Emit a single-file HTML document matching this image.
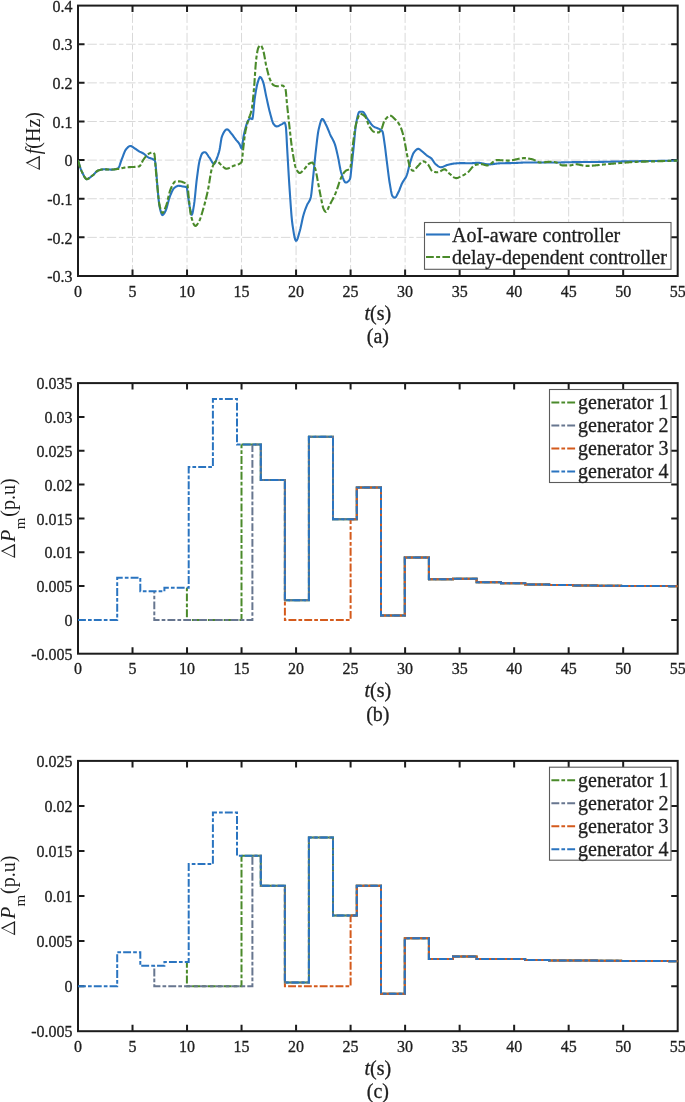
<!DOCTYPE html><html><head><meta charset="utf-8"><style>html,body{margin:0;padding:0;background:#fff;width:685px;height:1102px;overflow:hidden}svg{display:block;will-change:transform}text{font-family:"Liberation Serif",serif;fill:#1e1e1e;stroke:#1e1e1e;stroke-width:0.3px}.yl text{stroke-width:0}</style></head><body>
<svg width="685" height="1102" viewBox="0 0 685 1102">
<rect width="685" height="1102" fill="#fff"/>
<clipPath id="clipa"><rect x="78.0" y="5.6" width="599.7" height="270.4"/></clipPath>
<clipPath id="clipb"><rect x="78.0" y="383.1" width="599.7" height="270.6"/></clipPath>
<clipPath id="clipc"><rect x="78.0" y="760.9" width="599.7" height="270.30000000000007"/></clipPath>
<line x1="132.52" y1="276.0" x2="132.52" y2="5.6" stroke="#d9d9d9" stroke-width="1" stroke-dasharray="9.45 2.65 4.6 2.65" stroke-dashoffset="17.85"/>
<line x1="187.04" y1="276.0" x2="187.04" y2="5.6" stroke="#d9d9d9" stroke-width="1" stroke-dasharray="9.45 2.65 4.6 2.65" stroke-dashoffset="17.85"/>
<line x1="241.55" y1="276.0" x2="241.55" y2="5.6" stroke="#d9d9d9" stroke-width="1" stroke-dasharray="9.45 2.65 4.6 2.65" stroke-dashoffset="17.85"/>
<line x1="296.07" y1="276.0" x2="296.07" y2="5.6" stroke="#d9d9d9" stroke-width="1" stroke-dasharray="9.45 2.65 4.6 2.65" stroke-dashoffset="17.85"/>
<line x1="350.59" y1="276.0" x2="350.59" y2="5.6" stroke="#d9d9d9" stroke-width="1" stroke-dasharray="9.45 2.65 4.6 2.65" stroke-dashoffset="17.85"/>
<line x1="405.11" y1="276.0" x2="405.11" y2="5.6" stroke="#d9d9d9" stroke-width="1" stroke-dasharray="9.45 2.65 4.6 2.65" stroke-dashoffset="17.85"/>
<line x1="459.63" y1="276.0" x2="459.63" y2="5.6" stroke="#d9d9d9" stroke-width="1" stroke-dasharray="9.45 2.65 4.6 2.65" stroke-dashoffset="17.85"/>
<line x1="514.15" y1="276.0" x2="514.15" y2="5.6" stroke="#d9d9d9" stroke-width="1" stroke-dasharray="9.45 2.65 4.6 2.65" stroke-dashoffset="17.85"/>
<line x1="568.66" y1="276.0" x2="568.66" y2="5.6" stroke="#d9d9d9" stroke-width="1" stroke-dasharray="9.45 2.65 4.6 2.65" stroke-dashoffset="17.85"/>
<line x1="623.18" y1="276.0" x2="623.18" y2="5.6" stroke="#d9d9d9" stroke-width="1" stroke-dasharray="9.45 2.65 4.6 2.65" stroke-dashoffset="17.85"/>
<line x1="78.0" y1="237.37" x2="677.7" y2="237.37" stroke="#d9d9d9" stroke-width="1" stroke-dasharray="9.45 2.65 4.6 2.65" stroke-dashoffset="9.95"/>
<line x1="78.0" y1="198.74" x2="677.7" y2="198.74" stroke="#d9d9d9" stroke-width="1" stroke-dasharray="9.45 2.65 4.6 2.65" stroke-dashoffset="9.95"/>
<line x1="78.0" y1="160.11" x2="677.7" y2="160.11" stroke="#d9d9d9" stroke-width="1" stroke-dasharray="9.45 2.65 4.6 2.65" stroke-dashoffset="9.95"/>
<line x1="78.0" y1="121.49" x2="677.7" y2="121.49" stroke="#d9d9d9" stroke-width="1" stroke-dasharray="9.45 2.65 4.6 2.65" stroke-dashoffset="9.95"/>
<line x1="78.0" y1="82.86" x2="677.7" y2="82.86" stroke="#d9d9d9" stroke-width="1" stroke-dasharray="9.45 2.65 4.6 2.65" stroke-dashoffset="9.95"/>
<line x1="78.0" y1="44.23" x2="677.7" y2="44.23" stroke="#d9d9d9" stroke-width="1" stroke-dasharray="9.45 2.65 4.6 2.65" stroke-dashoffset="9.95"/>
<rect x="78.0" y="5.6" width="599.70" height="270.40" fill="none" stroke="#1c1c1c" stroke-width="2"/>
<path d="M132.52,276.0 v-6.5 M132.52,5.6 v6.5 M187.04,276.0 v-6.5 M187.04,5.6 v6.5 M241.55,276.0 v-6.5 M241.55,5.6 v6.5 M296.07,276.0 v-6.5 M296.07,5.6 v6.5 M350.59,276.0 v-6.5 M350.59,5.6 v6.5 M405.11,276.0 v-6.5 M405.11,5.6 v6.5 M459.63,276.0 v-6.5 M459.63,5.6 v6.5 M514.15,276.0 v-6.5 M514.15,5.6 v6.5 M568.66,276.0 v-6.5 M568.66,5.6 v6.5 M623.18,276.0 v-6.5 M623.18,5.6 v6.5 M78.0,237.37 h6.5 M677.7,237.37 h-6.5 M78.0,198.74 h6.5 M677.7,198.74 h-6.5 M78.0,160.11 h6.5 M677.7,160.11 h-6.5 M78.0,121.49 h6.5 M677.7,121.49 h-6.5 M78.0,82.86 h6.5 M677.7,82.86 h-6.5 M78.0,44.23 h6.5 M677.7,44.23 h-6.5" stroke="#1c1c1c" stroke-width="2" fill="none"/>
<text x="78.00" y="296.50" font-size="16" text-anchor="middle">0</text>
<text x="132.52" y="296.50" font-size="16" text-anchor="middle">5</text>
<text x="187.04" y="296.50" font-size="16" text-anchor="middle">10</text>
<text x="241.55" y="296.50" font-size="16" text-anchor="middle">15</text>
<text x="296.07" y="296.50" font-size="16" text-anchor="middle">20</text>
<text x="350.59" y="296.50" font-size="16" text-anchor="middle">25</text>
<text x="405.11" y="296.50" font-size="16" text-anchor="middle">30</text>
<text x="459.63" y="296.50" font-size="16" text-anchor="middle">35</text>
<text x="514.15" y="296.50" font-size="16" text-anchor="middle">40</text>
<text x="568.66" y="296.50" font-size="16" text-anchor="middle">45</text>
<text x="623.18" y="296.50" font-size="16" text-anchor="middle">50</text>
<text x="677.70" y="296.50" font-size="16" text-anchor="middle">55</text>
<text x="72.6" y="282.20" font-size="16" text-anchor="end">-0.3</text>
<text x="72.6" y="243.57" font-size="16" text-anchor="end">-0.2</text>
<text x="72.6" y="204.94" font-size="16" text-anchor="end">-0.1</text>
<text x="72.6" y="166.31" font-size="16" text-anchor="end">0</text>
<text x="72.6" y="127.69" font-size="16" text-anchor="end">0.1</text>
<text x="72.6" y="89.06" font-size="16" text-anchor="end">0.2</text>
<text x="72.6" y="50.43" font-size="16" text-anchor="end">0.3</text>
<text x="72.6" y="11.80" font-size="16" text-anchor="end">0.4</text>
<text x="377.85" y="319.50" font-size="20" text-anchor="middle"><tspan font-style="italic">t</tspan>(s)</text>
<text x="377.85" y="342.80" font-size="20" text-anchor="middle">(a)</text>
<g clip-path="url(#clipa)" fill="none" stroke-width="2.1">
<path d="M78.00,160.20 L78.50,161.96 L79.00,163.66 L79.50,165.28 L80.00,166.83 L80.50,168.28 L81.00,169.63 L81.50,170.87 L82.00,171.99 L82.50,173.00 L83.00,174.01 L83.50,175.03 L84.00,176.01 L84.50,176.93 L85.00,177.73 L85.50,178.38 L86.00,178.84 L86.50,179.08 L87.00,179.08 L87.50,178.98 L88.00,178.80 L88.50,178.55 L89.00,178.25 L89.50,177.90 L90.00,177.51 L90.50,177.11 L91.00,176.69 L91.50,176.28 L92.00,175.88 L92.50,175.50 L93.00,175.11 L93.50,174.66 L94.00,174.16 L94.50,173.65 L95.00,173.12 L95.50,172.59 L96.00,172.09 L96.50,171.62 L97.00,171.20 L97.50,170.84 L98.00,170.56 L98.50,170.37 L99.00,170.22 L99.50,170.07 L100.00,169.93 L100.50,169.81 L101.00,169.69 L101.50,169.58 L102.00,169.49 L102.50,169.42 L103.00,169.36 L103.50,169.32 L104.00,169.30 L104.50,169.30 L105.00,169.31 L105.50,169.33 L106.00,169.35 L106.50,169.37 L107.00,169.40 L107.50,169.43 L108.00,169.46 L108.50,169.49 L109.00,169.52 L109.50,169.54 L110.00,169.57 L110.50,169.58 L111.00,169.60 L111.50,169.60 L112.00,169.59 L112.50,169.57 L113.00,169.53 L113.50,169.47 L114.00,169.40 L114.50,169.31 L115.00,169.21 L115.50,169.09 L116.00,168.95 L116.50,168.80 L117.00,168.63 L117.50,168.44 L118.00,168.24 L118.50,167.86 L119.00,167.01 L119.50,165.81 L120.00,164.38 L120.50,162.84 L121.00,161.30 L121.50,159.90 L122.00,158.67 L122.50,157.37 L123.00,156.03 L123.50,154.68 L124.00,153.37 L124.50,152.14 L125.00,151.02 L125.50,150.07 L126.00,149.32 L126.50,148.74 L127.00,148.17 L127.50,147.63 L128.00,147.14 L128.50,146.72 L129.00,146.37 L129.50,146.13 L130.00,146.01 L130.50,146.02 L131.00,146.13 L131.50,146.31 L132.00,146.57 L132.50,146.87 L133.00,147.20 L133.50,147.56 L134.00,147.91 L134.50,148.25 L135.00,148.56 L135.50,148.88 L136.00,149.21 L136.50,149.57 L137.00,149.93 L137.50,150.28 L138.00,150.63 L138.50,150.97 L139.00,151.28 L139.50,151.57 L140.00,151.83 L140.50,152.07 L141.00,152.29 L141.50,152.52 L142.00,152.75 L142.50,152.99 L143.00,153.25 L143.50,153.54 L144.00,153.87 L144.50,154.26 L145.00,154.69 L145.50,155.15 L146.00,155.61 L146.50,156.07 L147.00,156.49 L147.50,156.88 L148.00,157.20 L148.50,157.47 L149.00,157.70 L149.50,157.90 L150.00,158.08 L150.50,158.25 L151.00,158.42 L151.50,158.59 L152.00,158.78 L152.50,158.99 L153.00,159.23 L153.50,159.51 L154.00,159.83 L154.50,160.22 L155.00,160.90 L155.50,163.96 L156.00,169.00 L156.50,174.87 L157.00,181.63 L157.50,187.58 L158.00,193.12 L158.50,198.45 L159.00,203.06 L159.50,206.42 L160.00,208.63 L160.50,210.64 L161.00,212.39 L161.50,213.77 L162.00,214.67 L162.50,215.00 L163.00,214.84 L163.50,214.39 L164.00,213.72 L164.50,212.91 L165.00,212.02 L165.50,211.11 L166.00,209.93 L166.50,208.42 L167.00,206.67 L167.50,204.77 L168.00,202.81 L168.50,200.89 L169.00,199.09 L169.50,197.51 L170.00,196.20 L170.50,194.96 L171.00,193.73 L171.50,192.54 L172.00,191.43 L172.50,190.40 L173.00,189.51 L173.50,188.75 L174.00,188.18 L174.50,187.76 L175.00,187.38 L175.50,187.02 L176.00,186.70 L176.50,186.41 L177.00,186.17 L177.50,185.98 L178.00,185.86 L178.50,185.80 L179.00,185.81 L179.50,185.85 L180.00,185.91 L180.50,186.00 L181.00,186.09 L181.50,186.20 L182.00,186.30 L182.50,186.41 L183.00,186.50 L183.50,186.58 L184.00,186.64 L184.50,186.69 L185.00,186.76 L185.50,186.86 L186.00,186.98 L186.50,187.16 L187.00,188.48 L187.50,192.09 L188.00,196.04 L188.50,199.24 L189.00,202.49 L189.50,205.63 L190.00,208.45 L190.50,210.84 L191.00,213.23 L191.50,214.83 L192.00,214.72 L192.50,213.21 L193.00,210.78 L193.50,207.87 L194.00,204.90 L194.50,201.16 L195.00,196.55 L195.50,191.48 L196.00,186.37 L196.50,181.66 L197.00,177.67 L197.50,173.80 L198.00,170.03 L198.50,166.52 L199.00,163.44 L199.50,160.98 L200.00,159.15 L200.50,157.47 L201.00,155.96 L201.50,154.68 L202.00,153.68 L202.50,153.04 L203.00,152.74 L203.50,152.51 L204.00,152.34 L204.50,152.23 L205.00,152.21 L205.50,152.38 L206.00,152.77 L206.50,153.33 L207.00,154.00 L207.50,154.76 L208.00,155.55 L208.50,156.32 L209.00,157.04 L209.50,157.70 L210.00,158.46 L210.50,159.31 L211.00,160.19 L211.50,161.06 L212.00,161.88 L212.50,162.61 L213.00,163.20 L213.50,163.61 L214.00,163.79 L214.50,163.61 L215.00,162.91 L215.50,161.85 L216.00,160.58 L216.50,159.25 L217.00,158.01 L217.50,156.70 L218.00,155.26 L218.50,153.68 L219.00,151.93 L219.50,150.00 L220.00,147.43 L220.50,144.18 L221.00,140.85 L221.50,138.05 L222.00,136.36 L222.50,135.17 L223.00,134.07 L223.50,133.05 L224.00,132.12 L224.50,131.31 L225.00,130.62 L225.50,130.06 L226.00,129.65 L226.50,129.39 L227.00,129.30 L227.50,129.40 L228.00,129.67 L228.50,130.08 L229.00,130.60 L229.50,131.19 L230.00,131.84 L230.50,132.49 L231.00,133.13 L231.50,133.71 L232.00,134.31 L232.50,134.96 L233.00,135.63 L233.50,136.33 L234.00,137.04 L234.50,137.74 L235.00,138.44 L235.50,139.11 L236.00,139.75 L236.50,140.35 L237.00,140.91 L237.50,141.47 L238.00,142.04 L238.50,142.65 L239.00,143.32 L239.50,144.07 L240.00,145.17 L240.50,146.47 L241.00,147.60 L241.50,148.18 L242.00,147.32 L242.50,144.37 L243.00,140.46 L243.50,136.75 L244.00,134.22 L244.50,132.07 L245.00,129.99 L245.50,128.01 L246.00,126.18 L246.50,124.51 L247.00,123.04 L247.50,121.80 L248.00,120.81 L248.50,120.06 L249.00,119.37 L249.50,118.79 L250.00,118.41 L250.50,118.31 L251.00,118.49 L251.50,118.79 L252.00,119.05 L252.50,118.80 L253.00,115.84 L253.50,110.84 L254.00,105.14 L254.50,100.12 L255.00,96.63 L255.50,93.44 L256.00,90.45 L256.50,87.71 L257.00,85.29 L257.50,83.28 L258.00,81.62 L258.50,80.01 L259.00,78.58 L259.50,77.52 L260.00,77.02 L260.50,77.13 L261.00,77.62 L261.50,78.39 L262.00,79.36 L262.50,80.43 L263.00,81.59 L263.50,83.21 L264.00,85.28 L264.50,87.67 L265.00,90.23 L265.50,92.83 L266.00,95.35 L266.50,97.64 L267.00,99.89 L267.50,102.17 L268.00,104.45 L268.50,106.69 L269.00,108.87 L269.50,110.93 L270.00,112.84 L270.50,114.66 L271.00,116.53 L271.50,118.37 L272.00,120.11 L272.50,121.67 L273.00,122.97 L273.50,123.93 L274.00,124.55 L274.50,125.11 L275.00,125.60 L275.50,126.00 L276.00,126.27 L276.50,126.40 L277.00,126.38 L277.50,126.29 L278.00,126.14 L278.50,125.94 L279.00,125.71 L279.50,125.45 L280.00,125.17 L280.50,124.89 L281.00,124.61 L281.50,124.35 L282.00,124.10 L282.50,123.79 L283.00,123.45 L283.50,123.12 L284.00,122.86 L284.50,122.71 L285.00,123.04 L285.50,124.80 L286.00,127.92 L286.50,135.63 L287.00,145.59 L287.50,154.45 L288.00,163.04 L288.50,171.65 L289.00,179.95 L289.50,187.60 L290.00,194.93 L290.50,202.27 L291.00,209.28 L291.50,215.60 L292.00,220.87 L292.50,224.78 L293.00,228.15 L293.50,231.37 L294.00,234.31 L294.50,236.86 L295.00,238.89 L295.50,240.27 L296.00,240.88 L296.50,240.70 L297.00,239.97 L297.50,238.80 L298.00,237.31 L298.50,235.61 L299.00,233.83 L299.50,232.07 L300.00,230.34 L300.50,228.32 L301.00,226.05 L301.50,223.66 L302.00,221.24 L302.50,218.92 L303.00,216.79 L303.50,214.96 L304.00,213.31 L304.50,211.75 L305.00,210.27 L305.50,208.88 L306.00,207.55 L306.50,206.29 L307.00,205.10 L307.50,204.06 L308.00,203.22 L308.50,202.46 L309.00,201.70 L309.50,200.85 L310.00,199.79 L310.50,198.44 L311.00,196.41 L311.50,192.77 L312.00,188.09 L312.50,183.12 L313.00,178.48 L313.50,173.66 L314.00,168.61 L314.50,163.49 L315.00,158.48 L315.50,153.74 L316.00,149.38 L316.50,145.00 L317.00,140.67 L317.50,136.60 L318.00,133.01 L318.50,130.12 L319.00,127.94 L319.50,125.89 L320.00,123.95 L320.50,122.21 L321.00,120.77 L321.50,119.71 L322.00,119.10 L322.50,119.03 L323.00,119.34 L323.50,119.95 L324.00,120.76 L324.50,121.73 L325.00,122.77 L325.50,123.82 L326.00,124.80 L326.50,125.79 L327.00,126.87 L327.50,128.03 L328.00,129.24 L328.50,130.47 L329.00,131.71 L329.50,132.93 L330.00,134.11 L330.50,135.22 L331.00,136.23 L331.50,137.18 L332.00,138.10 L332.50,139.01 L333.00,139.94 L333.50,140.95 L334.00,142.04 L334.50,143.27 L335.00,144.68 L335.50,146.35 L336.00,148.25 L336.50,150.31 L337.00,152.45 L337.50,154.63 L338.00,156.86 L338.50,159.38 L339.00,162.08 L339.50,164.83 L340.00,167.49 L340.50,169.92 L341.00,171.99 L341.50,173.61 L342.00,175.14 L342.50,176.66 L343.00,178.10 L343.50,179.42 L344.00,180.56 L344.50,181.49 L345.00,182.14 L345.50,182.47 L346.00,182.48 L346.50,182.39 L347.00,182.20 L347.50,181.92 L348.00,181.54 L348.50,181.06 L349.00,180.48 L349.50,179.78 L350.00,178.98 L350.50,176.85 L351.00,172.18 L351.50,167.20 L352.00,162.74 L352.50,158.13 L353.00,153.41 L353.50,148.62 L354.00,143.63 L354.50,138.01 L355.00,132.41 L355.50,127.59 L356.00,124.26 L356.50,121.59 L357.00,119.06 L357.50,116.76 L358.00,114.79 L358.50,113.23 L359.00,112.18 L359.50,111.71 L360.00,111.70 L360.50,111.70 L361.00,111.70 L361.50,111.70 L362.00,111.70 L362.50,111.70 L363.00,111.84 L363.50,112.22 L364.00,112.81 L364.50,113.55 L365.00,114.40 L365.50,115.33 L366.00,116.28 L366.50,117.22 L367.00,118.09 L367.50,118.86 L368.00,119.55 L368.50,120.25 L369.00,120.97 L369.50,121.70 L370.00,122.42 L370.50,123.12 L371.00,123.79 L371.50,124.43 L372.00,125.02 L372.50,125.54 L373.00,125.99 L373.50,126.37 L374.00,126.68 L374.50,126.96 L375.00,127.21 L375.50,127.44 L376.00,127.64 L376.50,127.84 L377.00,128.03 L377.50,128.23 L378.00,128.44 L378.50,128.67 L379.00,128.92 L379.50,129.20 L380.00,129.48 L380.50,129.75 L381.00,130.05 L381.50,130.42 L382.00,130.90 L382.50,131.57 L383.00,133.32 L383.50,136.17 L384.00,139.61 L384.50,143.13 L385.00,146.63 L385.50,150.58 L386.00,154.75 L386.50,158.91 L387.00,162.87 L387.50,166.91 L388.00,170.99 L388.50,174.97 L389.00,178.69 L389.50,182.02 L390.00,184.93 L390.50,187.87 L391.00,190.68 L391.50,193.16 L392.00,195.09 L392.50,196.27 L393.00,196.81 L393.50,197.25 L394.00,197.58 L394.50,197.77 L395.00,197.77 L395.50,197.46 L396.00,196.87 L396.50,196.06 L397.00,195.10 L397.50,194.06 L398.00,193.00 L398.50,192.00 L399.00,190.95 L399.50,189.74 L400.00,188.44 L400.50,187.10 L401.00,185.77 L401.50,184.52 L402.00,183.40 L402.50,182.45 L403.00,181.61 L403.50,180.86 L404.00,180.15 L404.50,179.44 L405.00,178.70 L405.50,177.89 L406.00,176.97 L406.50,175.90 L407.00,174.54 L407.50,172.86 L408.00,170.94 L408.50,168.90 L409.00,166.85 L409.50,164.89 L410.00,163.12 L410.50,161.52 L411.00,159.88 L411.50,158.26 L412.00,156.70 L412.50,155.28 L413.00,154.04 L413.50,153.05 L414.00,152.34 L414.50,151.70 L415.00,151.09 L415.50,150.53 L416.00,150.03 L416.50,149.60 L417.00,149.26 L417.50,149.03 L418.00,148.91 L418.50,148.92 L419.00,149.06 L419.50,149.31 L420.00,149.63 L420.50,150.02 L421.00,150.44 L421.50,150.88 L422.00,151.32 L422.50,151.72 L423.00,152.11 L423.50,152.53 L424.00,152.97 L424.50,153.42 L425.00,153.88 L425.50,154.33 L426.00,154.77 L426.50,155.19 L427.00,155.57 L427.50,155.92 L428.00,156.23 L428.50,156.53 L429.00,156.82 L429.50,157.11 L430.00,157.43 L430.50,157.77 L431.00,158.15 L431.50,158.59 L432.00,159.15 L432.50,159.82 L433.00,160.56 L433.50,161.33 L434.00,162.10 L434.50,162.83 L435.00,163.48 L435.50,164.02 L436.00,164.45 L436.50,164.87 L437.00,165.28 L437.50,165.68 L438.00,166.05 L438.50,166.39 L439.00,166.68 L439.50,166.92 L440.00,167.09 L440.50,167.18 L441.00,167.20 L441.50,167.15 L442.00,167.05 L442.50,166.92 L443.00,166.75 L443.50,166.56 L444.00,166.35 L444.50,166.13 L445.00,165.91 L445.50,165.69 L446.00,165.48 L446.50,165.28 L447.00,165.11 L447.50,164.97 L448.00,164.85 L448.50,164.72 L449.00,164.59 L449.50,164.46 L450.00,164.34 L450.50,164.22 L451.00,164.11 L451.50,164.00 L452.00,163.90 L452.50,163.80 L453.00,163.72 L453.50,163.64 L454.00,163.57 L454.50,163.52 L455.00,163.47 L455.50,163.43 L456.00,163.39 L456.50,163.35 L457.00,163.31 L457.50,163.28 L458.00,163.24 L458.50,163.21 L459.00,163.18 L459.50,163.16 L460.00,163.14 L460.50,163.12 L461.00,163.11 L461.50,163.10 L462.00,163.10 L462.50,163.10 L463.00,163.11 L463.50,163.12 L464.00,163.13 L464.50,163.15 L465.00,163.17 L465.50,163.19 L466.00,163.21 L466.50,163.23 L467.00,163.25 L467.50,163.26 L468.00,163.28 L468.50,163.29 L469.00,163.30 L469.50,163.30 L470.00,163.30 L470.50,163.28 L471.00,163.26 L471.50,163.23 L472.00,163.19 L472.50,163.15 L473.00,163.11 L473.50,163.06 L474.00,163.02 L474.50,162.97 L475.00,162.93 L475.50,162.89 L476.00,162.86 L476.50,162.83 L477.00,162.81 L477.50,162.80 L478.00,162.80 L478.50,162.82 L479.00,162.86 L479.50,162.91 L480.00,162.97 L480.50,163.05 L481.00,163.13 L481.50,163.23 L482.00,163.33 L482.50,163.43 L483.00,163.54 L483.50,163.64 L484.00,163.75 L484.50,163.85 L485.00,163.95 L485.50,164.05 L486.00,164.13 L486.50,164.21 L487.00,164.28 L487.50,164.33 L488.00,164.37 L488.50,164.39 L489.00,164.40 L489.50,164.39 L490.00,164.37 L490.50,164.35 L491.00,164.31 L491.50,164.27 L492.00,164.22 L492.50,164.16 L493.00,164.10 L493.50,164.03 L494.00,163.97 L494.50,163.90 L495.00,163.83 L495.50,163.76 L496.00,163.69 L496.50,163.63 L497.00,163.56 L497.50,163.50 L498.00,163.45 L498.50,163.40 L499.00,163.36 L499.50,163.33 L500.00,163.30 L500.50,163.29 L501.00,163.27 L501.50,163.26 L502.00,163.24 L502.50,163.23 L503.00,163.22 L503.50,163.21 L504.00,163.20 L504.50,163.19 L505.00,163.18 L505.50,163.17 L506.00,163.16 L506.50,163.15 L507.00,163.14 L507.50,163.14 L508.00,163.13 L508.50,163.12 L509.00,163.11 L509.50,163.11 L510.00,163.10 L510.50,163.09 L511.00,163.08 L511.50,163.07 L512.00,163.06 L512.50,163.05 L513.00,163.04 L513.50,163.03 L514.00,163.02 L514.50,163.00 L515.00,162.99 L515.50,162.97 L516.00,162.95 L516.50,162.92 L517.00,162.90 L517.50,162.87 L518.00,162.84 L518.50,162.81 L519.00,162.78 L519.50,162.75 L520.00,162.72 L520.50,162.69 L521.00,162.66 L521.50,162.64 L522.00,162.61 L522.50,162.58 L523.00,162.56 L523.50,162.54 L524.00,162.53 L524.50,162.51 L525.00,162.51 L525.50,162.50 L526.00,162.50 L526.50,162.50 L527.00,162.50 L527.50,162.50 L528.00,162.50 L528.50,162.50 L529.00,162.50 L529.50,162.50 L530.00,162.50 L530.50,162.50 L531.00,162.50 L531.50,162.50 L532.00,162.50 L532.50,162.50 L533.00,162.50 L533.50,162.50 L534.00,162.50 L534.50,162.50 L535.00,162.50 L535.50,162.50 L536.00,162.50 L536.50,162.50 L537.00,162.50 L537.50,162.50 L538.00,162.50 L538.50,162.50 L539.00,162.50 L539.50,162.50 L540.00,162.50 L540.50,162.50 L541.00,162.50 L541.50,162.50 L542.00,162.50 L542.50,162.50 L543.00,162.50 L543.50,162.50 L544.00,162.50 L544.50,162.50 L545.00,162.50 L545.50,162.50 L546.00,162.50 L546.50,162.50 L547.00,162.50 L547.50,162.50 L548.00,162.50 L548.50,162.50 L549.00,162.50 L549.50,162.50 L550.00,162.50 L550.50,162.50 L551.00,162.50 L551.50,162.50 L552.00,162.50 L552.50,162.50 L553.00,162.50 L553.50,162.50 L554.00,162.50 L554.50,162.50 L555.00,162.50 L555.50,162.50 L556.00,162.50 L556.50,162.50 L557.00,162.50 L557.50,162.50 L558.00,162.49 L558.50,162.48 L559.00,162.48 L559.50,162.47 L560.00,162.46 L560.50,162.45 L561.00,162.44 L561.50,162.42 L562.00,162.41 L562.50,162.39 L563.00,162.38 L563.50,162.37 L564.00,162.35 L564.50,162.34 L565.00,162.32 L565.50,162.31 L566.00,162.29 L566.50,162.28 L567.00,162.26 L567.50,162.25 L568.00,162.24 L568.50,162.23 L569.00,162.22 L569.50,162.21 L570.00,162.20 L570.50,162.19 L571.00,162.19 L571.50,162.18 L572.00,162.17 L572.50,162.17 L573.00,162.16 L573.50,162.15 L574.00,162.15 L574.50,162.14 L575.00,162.14 L575.50,162.13 L576.00,162.13 L576.50,162.12 L577.00,162.12 L577.50,162.11 L578.00,162.11 L578.50,162.10 L579.00,162.10 L579.50,162.09 L580.00,162.09 L580.50,162.08 L581.00,162.08 L581.50,162.08 L582.00,162.07 L582.50,162.07 L583.00,162.06 L583.50,162.06 L584.00,162.06 L584.50,162.05 L585.00,162.05 L585.50,162.04 L586.00,162.04 L586.50,162.04 L587.00,162.03 L587.50,162.03 L588.00,162.02 L588.50,162.02 L589.00,162.02 L589.50,162.01 L590.00,162.01 L590.50,162.00 L591.00,162.00 L591.50,161.99 L592.00,161.99 L592.50,161.99 L593.00,161.98 L593.50,161.98 L594.00,161.97 L594.50,161.97 L595.00,161.96 L595.50,161.96 L596.00,161.95 L596.50,161.94 L597.00,161.94 L597.50,161.93 L598.00,161.93 L598.50,161.92 L599.00,161.91 L599.50,161.91 L600.00,161.90 L600.50,161.89 L601.00,161.89 L601.50,161.88 L602.00,161.87 L602.50,161.86 L603.00,161.85 L603.50,161.84 L604.00,161.83 L604.50,161.82 L605.00,161.81 L605.50,161.80 L606.00,161.79 L606.50,161.78 L607.00,161.77 L607.50,161.75 L608.00,161.74 L608.50,161.73 L609.00,161.72 L609.50,161.71 L610.00,161.69 L610.50,161.68 L611.00,161.67 L611.50,161.66 L612.00,161.64 L612.50,161.63 L613.00,161.62 L613.50,161.61 L614.00,161.59 L614.50,161.58 L615.00,161.57 L615.50,161.56 L616.00,161.54 L616.50,161.53 L617.00,161.52 L617.50,161.51 L618.00,161.50 L618.50,161.49 L619.00,161.47 L619.50,161.46 L620.00,161.45 L620.50,161.44 L621.00,161.43 L621.50,161.42 L622.00,161.41 L622.50,161.41 L623.00,161.40 L623.50,161.39 L624.00,161.38 L624.50,161.37 L625.00,161.36 L625.50,161.36 L626.00,161.35 L626.50,161.34 L627.00,161.33 L627.50,161.33 L628.00,161.32 L628.50,161.31 L629.00,161.30 L629.50,161.30 L630.00,161.29 L630.50,161.28 L631.00,161.28 L631.50,161.27 L632.00,161.26 L632.50,161.26 L633.00,161.25 L633.50,161.24 L634.00,161.24 L634.50,161.23 L635.00,161.23 L635.50,161.22 L636.00,161.21 L636.50,161.21 L637.00,161.20 L637.50,161.19 L638.00,161.19 L638.50,161.18 L639.00,161.18 L639.50,161.17 L640.00,161.16 L640.50,161.16 L641.00,161.15 L641.50,161.15 L642.00,161.14 L642.50,161.13 L643.00,161.13 L643.50,161.12 L644.00,161.11 L644.50,161.11 L645.00,161.10 L645.50,161.10 L646.00,161.09 L646.50,161.08 L647.00,161.08 L647.50,161.07 L648.00,161.06 L648.50,161.06 L649.00,161.05 L649.50,161.04 L650.00,161.04 L650.50,161.03 L651.00,161.02 L651.50,161.02 L652.00,161.01 L652.50,161.00 L653.00,160.99 L653.50,160.99 L654.00,160.98 L654.50,160.97 L655.00,160.96 L655.50,160.96 L656.00,160.95 L656.50,160.94 L657.00,160.93 L657.50,160.93 L658.00,160.92 L658.50,160.91 L659.00,160.90 L659.50,160.90 L660.00,160.89 L660.50,160.88 L661.00,160.87 L661.50,160.87 L662.00,160.86 L662.50,160.85 L663.00,160.84 L663.50,160.83 L664.00,160.83 L664.50,160.82 L665.00,160.81 L665.50,160.80 L666.00,160.79 L666.50,160.79 L667.00,160.78 L667.50,160.77 L668.00,160.76 L668.50,160.75 L669.00,160.75 L669.50,160.74 L670.00,160.73 L670.50,160.72 L671.00,160.71 L671.50,160.70 L672.00,160.70 L672.50,160.69 L673.00,160.68 L673.50,160.67 L674.00,160.66 L674.50,160.65 L675.00,160.65 L675.50,160.64 L676.00,160.63 L676.50,160.62 L677.00,160.61 L677.50,160.60 L677.70,160.60" stroke="#2a74c0"/>
<path d="M78.00,160.20 L78.50,161.96 L79.00,163.66 L79.50,165.28 L80.00,166.83 L80.50,168.28 L81.00,169.63 L81.50,170.87 L82.00,171.99 L82.50,173.00 L83.00,174.01 L83.50,175.03 L84.00,176.01 L84.50,176.93 L85.00,177.73 L85.50,178.38 L86.00,178.84 L86.50,179.08 L87.00,179.08 L87.50,178.98 L88.00,178.80 L88.50,178.55 L89.00,178.25 L89.50,177.90 L90.00,177.51 L90.50,177.11 L91.00,176.69 L91.50,176.28 L92.00,175.88 L92.50,175.50 L93.00,175.11 L93.50,174.66 L94.00,174.16 L94.50,173.65 L95.00,173.12 L95.50,172.59 L96.00,172.09 L96.50,171.62 L97.00,171.20 L97.50,170.84 L98.00,170.56 L98.50,170.37 L99.00,170.22 L99.50,170.07 L100.00,169.93 L100.50,169.81 L101.00,169.69 L101.50,169.58 L102.00,169.49 L102.50,169.42 L103.00,169.36 L103.50,169.32 L104.00,169.30 L104.50,169.30 L105.00,169.31 L105.50,169.33 L106.00,169.35 L106.50,169.37 L107.00,169.40 L107.50,169.43 L108.00,169.46 L108.50,169.49 L109.00,169.52 L109.50,169.54 L110.00,169.57 L110.50,169.58 L111.00,169.60 L111.50,169.60 L112.00,169.59 L112.50,169.57 L113.00,169.54 L113.50,169.50 L114.00,169.45 L114.50,169.40 L115.00,169.34 L115.50,169.27 L116.00,169.20 L116.50,169.13 L117.00,169.05 L117.50,168.98 L118.00,168.91 L118.50,168.84 L119.00,168.76 L119.50,168.67 L120.00,168.58 L120.50,168.47 L121.00,168.37 L121.50,168.26 L122.00,168.15 L122.50,168.04 L123.00,167.93 L123.50,167.83 L124.00,167.73 L124.50,167.64 L125.00,167.55 L125.50,167.48 L126.00,167.41 L126.50,167.36 L127.00,167.31 L127.50,167.27 L128.00,167.23 L128.50,167.19 L129.00,167.16 L129.50,167.14 L130.00,167.11 L130.50,167.09 L131.00,167.07 L131.50,167.05 L132.00,167.02 L132.50,167.00 L133.00,166.98 L133.50,166.96 L134.00,166.93 L134.50,166.90 L135.00,166.87 L135.50,166.84 L136.00,166.80 L136.50,166.75 L137.00,166.70 L137.50,166.65 L138.00,166.58 L138.50,166.51 L139.00,166.43 L139.50,166.29 L140.00,165.86 L140.50,165.18 L141.00,164.32 L141.50,163.34 L142.00,162.31 L142.50,161.29 L143.00,160.34 L143.50,159.54 L144.00,158.86 L144.50,158.18 L145.00,157.50 L145.50,156.84 L146.00,156.21 L146.50,155.63 L147.00,155.11 L147.50,154.66 L148.00,154.30 L148.50,153.98 L149.00,153.67 L149.50,153.38 L150.00,153.10 L150.50,152.86 L151.00,152.66 L151.50,152.51 L152.00,152.42 L152.50,152.40 L153.00,152.52 L153.50,152.82 L154.00,153.35 L154.50,154.11 L155.00,159.00 L155.50,166.21 L156.00,171.89 L156.50,177.17 L157.00,182.30 L157.50,187.69 L158.00,193.03 L158.50,197.95 L159.00,202.09 L159.50,205.07 L160.00,207.05 L160.50,208.86 L161.00,210.44 L161.50,211.68 L162.00,212.50 L162.50,212.80 L163.00,212.59 L163.50,211.99 L164.00,211.10 L164.50,209.98 L165.00,208.71 L165.50,207.37 L166.00,206.02 L166.50,204.65 L167.00,202.94 L167.50,200.96 L168.00,198.81 L168.50,196.60 L169.00,194.44 L169.50,192.45 L170.00,190.73 L170.50,189.40 L171.00,188.29 L171.50,187.18 L172.00,186.11 L172.50,185.09 L173.00,184.14 L173.50,183.30 L174.00,182.58 L174.50,182.01 L175.00,181.62 L175.50,181.42 L176.00,181.40 L176.50,181.40 L177.00,181.40 L177.50,181.40 L178.00,181.40 L178.50,181.40 L179.00,181.40 L179.50,181.40 L180.00,181.40 L180.50,181.43 L181.00,181.51 L181.50,181.64 L182.00,181.81 L182.50,182.00 L183.00,182.20 L183.50,182.42 L184.00,182.63 L184.50,182.84 L185.00,183.01 L185.50,183.17 L186.00,183.37 L186.50,183.63 L187.00,184.01 L187.50,184.94 L188.00,189.27 L188.50,195.15 L189.00,199.97 L189.50,204.61 L190.00,209.14 L190.50,213.01 L191.00,215.70 L191.50,217.57 L192.00,219.32 L192.50,220.94 L193.00,222.38 L193.50,223.62 L194.00,224.62 L194.50,225.35 L195.00,225.79 L195.50,225.89 L196.00,225.72 L196.50,225.32 L197.00,224.74 L197.50,224.03 L198.00,223.22 L198.50,222.36 L199.00,221.50 L199.50,220.53 L200.00,219.36 L200.50,218.00 L201.00,216.51 L201.50,214.91 L202.00,213.23 L202.50,211.51 L203.00,209.77 L203.50,208.06 L204.00,206.31 L204.50,204.50 L205.00,202.62 L205.50,200.68 L206.00,198.67 L206.50,196.60 L207.00,194.46 L207.50,192.25 L208.00,189.95 L208.50,187.28 L209.00,184.30 L209.50,181.15 L210.00,177.99 L210.50,174.95 L211.00,172.18 L211.50,169.82 L212.00,168.03 L212.50,166.80 L213.00,165.66 L213.50,164.59 L214.00,163.61 L214.50,162.74 L215.00,162.02 L215.50,161.47 L216.00,161.12 L216.50,161.00 L217.00,161.09 L217.50,161.33 L218.00,161.70 L218.50,162.16 L219.00,162.68 L219.50,163.23 L220.00,163.76 L220.50,164.26 L221.00,164.68 L221.50,165.11 L222.00,165.59 L222.50,166.09 L223.00,166.60 L223.50,167.09 L224.00,167.55 L224.50,167.95 L225.00,168.29 L225.50,168.54 L226.00,168.68 L226.50,168.70 L227.00,168.65 L227.50,168.56 L228.00,168.43 L228.50,168.27 L229.00,168.07 L229.50,167.85 L230.00,167.62 L230.50,167.36 L231.00,167.10 L231.50,166.84 L232.00,166.57 L232.50,166.32 L233.00,166.07 L233.50,165.84 L234.00,165.64 L234.50,165.47 L235.00,165.32 L235.50,165.18 L236.00,165.05 L236.50,164.93 L237.00,164.80 L237.50,164.65 L238.00,164.49 L238.50,164.30 L239.00,164.08 L239.50,163.81 L240.00,163.50 L240.50,163.14 L241.00,162.71 L241.50,162.21 L242.00,160.32 L242.50,155.66 L243.00,150.56 L243.50,146.32 L244.00,141.94 L244.50,137.72 L245.00,134.02 L245.50,131.14 L246.00,128.76 L246.50,126.66 L247.00,124.76 L247.50,122.98 L248.00,121.22 L248.50,119.47 L249.00,117.97 L249.50,116.61 L250.00,115.28 L250.50,113.85 L251.00,112.20 L251.50,110.21 L252.00,107.68 L252.50,103.95 L253.00,99.22 L253.50,93.90 L254.00,88.40 L254.50,81.97 L255.00,74.42 L255.50,67.00 L256.00,60.95 L256.50,56.97 L257.00,53.54 L257.50,50.65 L258.00,48.52 L258.50,47.33 L259.00,46.56 L259.50,45.94 L260.00,45.50 L260.50,45.31 L261.00,45.48 L261.50,46.13 L262.00,47.11 L262.50,48.27 L263.00,49.54 L263.50,51.37 L264.00,53.73 L264.50,56.42 L265.00,59.28 L265.50,62.10 L266.00,64.70 L266.50,66.91 L267.00,68.97 L267.50,71.02 L268.00,73.00 L268.50,74.87 L269.00,76.59 L269.50,78.10 L270.00,79.38 L270.50,80.46 L271.00,81.49 L271.50,82.46 L272.00,83.33 L272.50,84.08 L273.00,84.67 L273.50,85.09 L274.00,85.34 L274.50,85.55 L275.00,85.74 L275.50,85.90 L276.00,86.03 L276.50,86.13 L277.00,86.19 L277.50,86.20 L278.00,86.16 L278.50,86.09 L279.00,85.99 L279.50,85.87 L280.00,85.76 L280.50,85.65 L281.00,85.56 L281.50,85.51 L282.00,85.51 L282.50,85.60 L283.00,85.80 L283.50,86.12 L284.00,86.55 L284.50,87.09 L285.00,87.77 L285.50,88.67 L286.00,92.53 L286.50,98.52 L287.00,103.95 L287.50,108.69 L288.00,113.37 L288.50,117.99 L289.00,122.51 L289.50,127.01 L290.00,131.60 L290.50,136.15 L291.00,140.50 L291.50,144.50 L292.00,148.00 L292.50,151.21 L293.00,154.38 L293.50,157.44 L294.00,160.31 L294.50,162.92 L295.00,165.19 L295.50,167.04 L296.00,168.39 L296.50,169.36 L297.00,170.27 L297.50,171.09 L298.00,171.81 L298.50,172.38 L299.00,172.78 L299.50,172.98 L300.00,172.97 L300.50,172.79 L301.00,172.48 L301.50,172.07 L302.00,171.57 L302.50,171.03 L303.00,170.47 L303.50,169.92 L304.00,169.40 L304.50,168.89 L305.00,168.31 L305.50,167.68 L306.00,167.01 L306.50,166.34 L307.00,165.69 L307.50,165.08 L308.00,164.53 L308.50,164.06 L309.00,163.71 L309.50,163.46 L310.00,163.22 L310.50,163.01 L311.00,162.83 L311.50,162.69 L312.00,162.61 L312.50,162.64 L313.00,163.11 L313.50,163.98 L314.00,165.14 L314.50,166.50 L315.00,167.92 L315.50,169.52 L316.00,171.62 L316.50,174.10 L317.00,176.81 L317.50,179.63 L318.00,182.40 L318.50,185.01 L319.00,187.58 L319.50,190.19 L320.00,192.79 L320.50,195.33 L321.00,197.79 L321.50,200.42 L322.00,203.06 L322.50,205.46 L323.00,207.38 L323.50,208.65 L324.00,209.72 L324.50,210.66 L325.00,211.39 L325.50,211.82 L326.00,211.86 L326.50,211.49 L327.00,210.78 L327.50,209.82 L328.00,208.71 L328.50,207.52 L329.00,206.35 L329.50,205.29 L330.00,204.35 L330.50,203.42 L331.00,202.49 L331.50,201.56 L332.00,200.62 L332.50,199.67 L333.00,198.69 L333.50,197.70 L334.00,196.68 L334.50,195.62 L335.00,194.53 L335.50,193.40 L336.00,192.18 L336.50,190.83 L337.00,189.39 L337.50,187.89 L338.00,186.35 L338.50,184.81 L339.00,183.29 L339.50,181.82 L340.00,180.43 L340.50,179.15 L341.00,178.01 L341.50,177.02 L342.00,176.07 L342.50,175.16 L343.00,174.28 L343.50,173.46 L344.00,172.70 L344.50,172.02 L345.00,171.44 L345.50,170.96 L346.00,170.59 L346.50,170.33 L347.00,170.13 L347.50,169.96 L348.00,169.81 L348.50,169.64 L349.00,169.41 L349.50,169.11 L350.00,168.70 L350.50,167.37 L351.00,163.92 L351.50,159.06 L352.00,153.57 L352.50,148.23 L353.00,143.80 L353.50,140.02 L354.00,136.23 L354.50,132.60 L355.00,129.31 L355.50,126.53 L356.00,124.43 L356.50,122.59 L357.00,120.80 L357.50,119.12 L358.00,117.59 L358.50,116.27 L359.00,115.19 L359.50,114.41 L360.00,113.97 L360.50,113.91 L361.00,113.97 L361.50,114.11 L362.00,114.31 L362.50,114.56 L363.00,114.86 L363.50,115.19 L364.00,115.56 L364.50,115.94 L365.00,116.40 L365.50,117.12 L366.00,118.08 L366.50,119.22 L367.00,120.49 L367.50,121.82 L368.00,123.17 L368.50,124.46 L369.00,125.65 L369.50,126.69 L370.00,127.50 L370.50,128.19 L371.00,128.88 L371.50,129.55 L372.00,130.18 L372.50,130.74 L373.00,131.23 L373.50,131.62 L374.00,131.89 L374.50,132.02 L375.00,132.10 L375.50,132.17 L376.00,132.23 L376.50,132.28 L377.00,132.33 L377.50,132.36 L378.00,132.39 L378.50,132.40 L379.00,132.37 L379.50,132.06 L380.00,131.48 L380.50,130.70 L381.00,129.80 L381.50,128.87 L382.00,127.86 L382.50,126.44 L383.00,124.78 L383.50,123.10 L384.00,121.62 L384.50,120.54 L385.00,119.88 L385.50,119.26 L386.00,118.66 L386.50,118.11 L387.00,117.60 L387.50,117.15 L388.00,116.74 L388.50,116.41 L389.00,116.14 L389.50,115.94 L390.00,115.83 L390.50,115.80 L391.00,115.89 L391.50,116.08 L392.00,116.38 L392.50,116.74 L393.00,117.17 L393.50,117.65 L394.00,118.16 L394.50,118.68 L395.00,119.20 L395.50,119.70 L396.00,120.20 L396.50,120.72 L397.00,121.27 L397.50,121.87 L398.00,122.51 L398.50,123.21 L399.00,123.96 L399.50,124.79 L400.00,125.69 L400.50,126.74 L401.00,127.97 L401.50,129.35 L402.00,130.87 L402.50,132.52 L403.00,134.27 L403.50,136.12 L404.00,138.18 L404.50,140.63 L405.00,143.36 L405.50,146.25 L406.00,149.16 L406.50,151.97 L407.00,154.56 L407.50,156.90 L408.00,159.29 L408.50,161.65 L409.00,163.82 L409.50,165.65 L410.00,167.00 L410.50,167.93 L411.00,168.80 L411.50,169.56 L412.00,170.18 L412.50,170.60 L413.00,170.79 L413.50,170.74 L414.00,170.50 L414.50,170.12 L415.00,169.62 L415.50,169.03 L416.00,168.39 L416.50,167.72 L417.00,167.06 L417.50,166.44 L418.00,165.89 L418.50,165.41 L419.00,164.88 L419.50,164.32 L420.00,163.74 L420.50,163.18 L421.00,162.65 L421.50,162.18 L422.00,161.78 L422.50,161.49 L423.00,161.33 L423.50,161.31 L424.00,161.41 L424.50,161.62 L425.00,161.90 L425.50,162.26 L426.00,162.66 L426.50,163.10 L427.00,163.56 L427.50,164.02 L428.00,164.51 L428.50,165.16 L429.00,165.96 L429.50,166.84 L430.00,167.77 L430.50,168.70 L431.00,169.57 L431.50,170.34 L432.00,170.95 L432.50,171.37 L433.00,171.56 L433.50,171.69 L434.00,171.81 L434.50,171.92 L435.00,172.02 L435.50,172.10 L436.00,172.18 L436.50,172.23 L437.00,172.27 L437.50,172.29 L438.00,172.30 L438.50,172.23 L439.00,172.08 L439.50,171.86 L440.00,171.58 L440.50,171.27 L441.00,170.94 L441.50,170.60 L442.00,170.27 L442.50,169.96 L443.00,169.69 L443.50,169.49 L444.00,169.35 L444.50,169.30 L445.00,169.38 L445.50,169.62 L446.00,169.98 L446.50,170.44 L447.00,170.96 L447.50,171.52 L448.00,172.10 L448.50,172.66 L449.00,173.18 L449.50,173.62 L450.00,174.02 L450.50,174.44 L451.00,174.88 L451.50,175.33 L452.00,175.78 L452.50,176.22 L453.00,176.64 L453.50,177.03 L454.00,177.37 L454.50,177.66 L455.00,177.88 L455.50,178.03 L456.00,178.10 L456.50,178.08 L457.00,178.02 L457.50,177.91 L458.00,177.76 L458.50,177.58 L459.00,177.37 L459.50,177.14 L460.00,176.90 L460.50,176.65 L461.00,176.39 L461.50,176.14 L462.00,175.90 L462.50,175.66 L463.00,175.40 L463.50,175.13 L464.00,174.84 L464.50,174.54 L465.00,174.22 L465.50,173.90 L466.00,173.56 L466.50,173.21 L467.00,172.85 L467.50,172.48 L468.00,172.10 L468.50,171.68 L469.00,171.19 L469.50,170.65 L470.00,170.06 L470.50,169.45 L471.00,168.83 L471.50,168.21 L472.00,167.60 L472.50,167.02 L473.00,166.47 L473.50,165.99 L474.00,165.57 L474.50,165.23 L475.00,164.99 L475.50,164.85 L476.00,164.74 L476.50,164.63 L477.00,164.52 L477.50,164.43 L478.00,164.35 L478.50,164.27 L479.00,164.21 L479.50,164.16 L480.00,164.13 L480.50,164.11 L481.00,164.10 L481.50,164.13 L482.00,164.20 L482.50,164.30 L483.00,164.43 L483.50,164.57 L484.00,164.72 L484.50,164.87 L485.00,165.02 L485.50,165.15 L486.00,165.26 L486.50,165.34 L487.00,165.39 L487.50,165.39 L488.00,165.32 L488.50,165.17 L489.00,164.96 L489.50,164.69 L490.00,164.38 L490.50,164.03 L491.00,163.64 L491.50,163.24 L492.00,162.83 L492.50,162.42 L493.00,162.01 L493.50,161.62 L494.00,161.26 L494.50,160.93 L495.00,160.64 L495.50,160.41 L496.00,160.23 L496.50,160.13 L497.00,160.10 L497.50,160.10 L498.00,160.11 L498.50,160.13 L499.00,160.15 L499.50,160.17 L500.00,160.19 L500.50,160.22 L501.00,160.25 L501.50,160.28 L502.00,160.31 L502.50,160.35 L503.00,160.38 L503.50,160.41 L504.00,160.44 L504.50,160.47 L505.00,160.50 L505.50,160.53 L506.00,160.55 L506.50,160.57 L507.00,160.58 L507.50,160.59 L508.00,160.60 L508.50,160.60 L509.00,160.58 L509.50,160.55 L510.00,160.51 L510.50,160.46 L511.00,160.40 L511.50,160.32 L512.00,160.24 L512.50,160.16 L513.00,160.06 L513.50,159.96 L514.00,159.85 L514.50,159.74 L515.00,159.63 L515.50,159.51 L516.00,159.40 L516.50,159.28 L517.00,159.16 L517.50,159.05 L518.00,158.94 L518.50,158.83 L519.00,158.72 L519.50,158.62 L520.00,158.53 L520.50,158.44 L521.00,158.36 L521.50,158.29 L522.00,158.23 L522.50,158.18 L523.00,158.14 L523.50,158.11 L524.00,158.10 L524.50,158.10 L525.00,158.12 L525.50,158.14 L526.00,158.18 L526.50,158.23 L527.00,158.29 L527.50,158.36 L528.00,158.44 L528.50,158.52 L529.00,158.61 L529.50,158.71 L530.00,158.81 L530.50,158.91 L531.00,159.02 L531.50,159.13 L532.00,159.23 L532.50,159.35 L533.00,159.50 L533.50,159.68 L534.00,159.90 L534.50,160.14 L535.00,160.40 L535.50,160.68 L536.00,160.95 L536.50,161.22 L537.00,161.49 L537.50,161.74 L538.00,161.96 L538.50,162.15 L539.00,162.31 L539.50,162.43 L540.00,162.49 L540.50,162.50 L541.00,162.49 L541.50,162.47 L542.00,162.45 L542.50,162.42 L543.00,162.38 L543.50,162.34 L544.00,162.30 L544.50,162.25 L545.00,162.20 L545.50,162.14 L546.00,162.09 L546.50,162.04 L547.00,161.98 L547.50,161.93 L548.00,161.89 L548.50,161.84 L549.00,161.80 L549.50,161.77 L550.00,161.74 L550.50,161.72 L551.00,161.70 L551.50,161.70 L552.00,161.71 L552.50,161.75 L553.00,161.80 L553.50,161.88 L554.00,161.97 L554.50,162.06 L555.00,162.17 L555.50,162.29 L556.00,162.41 L556.50,162.52 L557.00,162.69 L557.50,162.90 L558.00,163.16 L558.50,163.45 L559.00,163.76 L559.50,164.08 L560.00,164.38 L560.50,164.67 L561.00,164.93 L561.50,165.14 L562.00,165.30 L562.50,165.38 L563.00,165.40 L563.50,165.40 L564.00,165.40 L564.50,165.40 L565.00,165.40 L565.50,165.40 L566.00,165.40 L566.50,165.40 L567.00,165.40 L567.50,165.40 L568.00,165.40 L568.50,165.40 L569.00,165.40 L569.50,165.40 L570.00,165.40 L570.50,165.37 L571.00,165.30 L571.50,165.18 L572.00,165.04 L572.50,164.88 L573.00,164.72 L573.50,164.56 L574.00,164.42 L574.50,164.30 L575.00,164.23 L575.50,164.20 L576.00,164.21 L576.50,164.24 L577.00,164.29 L577.50,164.36 L578.00,164.44 L578.50,164.54 L579.00,164.64 L579.50,164.75 L580.00,164.87 L580.50,164.99 L581.00,165.11 L581.50,165.23 L582.00,165.35 L582.50,165.46 L583.00,165.56 L583.50,165.66 L584.00,165.74 L584.50,165.81 L585.00,165.86 L585.50,165.89 L586.00,165.90 L586.50,165.90 L587.00,165.89 L587.50,165.88 L588.00,165.87 L588.50,165.86 L589.00,165.84 L589.50,165.82 L590.00,165.79 L590.50,165.77 L591.00,165.74 L591.50,165.71 L592.00,165.67 L592.50,165.64 L593.00,165.60 L593.50,165.56 L594.00,165.52 L594.50,165.47 L595.00,165.43 L595.50,165.38 L596.00,165.33 L596.50,165.28 L597.00,165.23 L597.50,165.18 L598.00,165.13 L598.50,165.07 L599.00,165.02 L599.50,164.97 L600.00,164.91 L600.50,164.86 L601.00,164.80 L601.50,164.75 L602.00,164.69 L602.50,164.63 L603.00,164.58 L603.50,164.52 L604.00,164.47 L604.50,164.42 L605.00,164.36 L605.50,164.31 L606.00,164.26 L606.50,164.21 L607.00,164.16 L607.50,164.12 L608.00,164.07 L608.50,164.03 L609.00,163.98 L609.50,163.94 L610.00,163.90 L610.50,163.85 L611.00,163.81 L611.50,163.77 L612.00,163.72 L612.50,163.68 L613.00,163.64 L613.50,163.59 L614.00,163.55 L614.50,163.50 L615.00,163.46 L615.50,163.42 L616.00,163.37 L616.50,163.33 L617.00,163.28 L617.50,163.24 L618.00,163.20 L618.50,163.16 L619.00,163.11 L619.50,163.07 L620.00,163.03 L620.50,162.99 L621.00,162.95 L621.50,162.90 L622.00,162.86 L622.50,162.82 L623.00,162.78 L623.50,162.74 L624.00,162.70 L624.50,162.66 L625.00,162.62 L625.50,162.58 L626.00,162.54 L626.50,162.49 L627.00,162.45 L627.50,162.41 L628.00,162.37 L628.50,162.33 L629.00,162.29 L629.50,162.25 L630.00,162.21 L630.50,162.17 L631.00,162.14 L631.50,162.10 L632.00,162.07 L632.50,162.04 L633.00,162.01 L633.50,161.98 L634.00,161.95 L634.50,161.93 L635.00,161.90 L635.50,161.88 L636.00,161.86 L636.50,161.84 L637.00,161.83 L637.50,161.81 L638.00,161.79 L638.50,161.77 L639.00,161.76 L639.50,161.74 L640.00,161.73 L640.50,161.71 L641.00,161.70 L641.50,161.68 L642.00,161.67 L642.50,161.66 L643.00,161.64 L643.50,161.63 L644.00,161.62 L644.50,161.61 L645.00,161.60 L645.50,161.58 L646.00,161.57 L646.50,161.56 L647.00,161.55 L647.50,161.54 L648.00,161.52 L648.50,161.51 L649.00,161.50 L649.50,161.49 L650.00,161.47 L650.50,161.46 L651.00,161.45 L651.50,161.43 L652.00,161.42 L652.50,161.40 L653.00,161.39 L653.50,161.37 L654.00,161.36 L654.50,161.34 L655.00,161.33 L655.50,161.31 L656.00,161.30 L656.50,161.28 L657.00,161.27 L657.50,161.25 L658.00,161.24 L658.50,161.22 L659.00,161.20 L659.50,161.19 L660.00,161.17 L660.50,161.16 L661.00,161.14 L661.50,161.13 L662.00,161.11 L662.50,161.10 L663.00,161.08 L663.50,161.06 L664.00,161.05 L664.50,161.03 L665.00,161.02 L665.50,161.00 L666.00,160.98 L666.50,160.97 L667.00,160.95 L667.50,160.94 L668.00,160.92 L668.50,160.90 L669.00,160.89 L669.50,160.87 L670.00,160.86 L670.50,160.84 L671.00,160.82 L671.50,160.81 L672.00,160.79 L672.50,160.77 L673.00,160.76 L673.50,160.74 L674.00,160.72 L674.50,160.71 L675.00,160.69 L675.50,160.67 L676.00,160.66 L676.50,160.64 L677.00,160.62 L677.50,160.61 L677.70,160.60" stroke="#4a8a2a" stroke-dasharray="7.8 2.3 4 2.3"/>
</g>
<rect x="424.5" y="222.5" width="246.5" height="46.8" fill="#fff" stroke="#5c5c5c" stroke-width="1.1"/>
<line x1="426" y1="234.5" x2="450" y2="234.5" stroke="#2a74c0" stroke-width="2.1"/>
<line x1="426" y1="257" x2="450" y2="257" stroke="#4a8a2a" stroke-width="2.1" stroke-dasharray="7.8 2.3 4 2.3"/>
<text x="452" y="241.5" font-size="20">AoI-aware controller</text>
<text x="452" y="263.8" font-size="20">delay-dependent controller</text>
<g transform="translate(39.9,171.2) rotate(-90)" class="yl"><path fill="#1e1e1e" fill-rule="evenodd" stroke="none" d="M1.30,0.00 L15.50,0.00 L8.40,-14.30 Z M2.70,-1.35 L13.38,-1.35 L8.04,-12.11 Z"/><text x="17.0" y="0" font-size="20"><tspan font-style="italic">f</tspan>(Hz)</text></g>
<rect x="78.0" y="383.1" width="599.70" height="270.60" fill="none" stroke="#1c1c1c" stroke-width="2"/>
<path d="M132.52,653.7 v-6.5 M132.52,383.1 v6.5 M187.04,653.7 v-6.5 M187.04,383.1 v6.5 M241.55,653.7 v-6.5 M241.55,383.1 v6.5 M296.07,653.7 v-6.5 M296.07,383.1 v6.5 M350.59,653.7 v-6.5 M350.59,383.1 v6.5 M405.11,653.7 v-6.5 M405.11,383.1 v6.5 M459.63,653.7 v-6.5 M459.63,383.1 v6.5 M514.15,653.7 v-6.5 M514.15,383.1 v6.5 M568.66,653.7 v-6.5 M568.66,383.1 v6.5 M623.18,653.7 v-6.5 M623.18,383.1 v6.5 M78.0,619.88 h6.5 M677.7,619.88 h-6.5 M78.0,586.05 h6.5 M677.7,586.05 h-6.5 M78.0,552.23 h6.5 M677.7,552.23 h-6.5 M78.0,518.40 h6.5 M677.7,518.40 h-6.5 M78.0,484.58 h6.5 M677.7,484.58 h-6.5 M78.0,450.75 h6.5 M677.7,450.75 h-6.5 M78.0,416.93 h6.5 M677.7,416.93 h-6.5" stroke="#1c1c1c" stroke-width="2" fill="none"/>
<text x="78.00" y="674.20" font-size="16" text-anchor="middle">0</text>
<text x="132.52" y="674.20" font-size="16" text-anchor="middle">5</text>
<text x="187.04" y="674.20" font-size="16" text-anchor="middle">10</text>
<text x="241.55" y="674.20" font-size="16" text-anchor="middle">15</text>
<text x="296.07" y="674.20" font-size="16" text-anchor="middle">20</text>
<text x="350.59" y="674.20" font-size="16" text-anchor="middle">25</text>
<text x="405.11" y="674.20" font-size="16" text-anchor="middle">30</text>
<text x="459.63" y="674.20" font-size="16" text-anchor="middle">35</text>
<text x="514.15" y="674.20" font-size="16" text-anchor="middle">40</text>
<text x="568.66" y="674.20" font-size="16" text-anchor="middle">45</text>
<text x="623.18" y="674.20" font-size="16" text-anchor="middle">50</text>
<text x="677.70" y="674.20" font-size="16" text-anchor="middle">55</text>
<text x="72.6" y="659.90" font-size="16" text-anchor="end">-0.005</text>
<text x="72.6" y="626.08" font-size="16" text-anchor="end">0</text>
<text x="72.6" y="592.25" font-size="16" text-anchor="end">0.005</text>
<text x="72.6" y="558.43" font-size="16" text-anchor="end">0.01</text>
<text x="72.6" y="524.60" font-size="16" text-anchor="end">0.015</text>
<text x="72.6" y="490.78" font-size="16" text-anchor="end">0.02</text>
<text x="72.6" y="456.95" font-size="16" text-anchor="end">0.025</text>
<text x="72.6" y="423.13" font-size="16" text-anchor="end">0.03</text>
<text x="72.6" y="389.30" font-size="16" text-anchor="end">0.035</text>
<text x="377.85" y="697.20" font-size="20" text-anchor="middle"><tspan font-style="italic">t</tspan>(s)</text>
<text x="377.85" y="720.50" font-size="20" text-anchor="middle">(b)</text>
<g clip-path="url(#clipb)" fill="none" stroke-width="2">
<path d="M241.50,444.40 L260.80,444.40 L260.80,479.90 L284.90,479.90 L284.90,600.30 L308.90,600.30 L308.90,436.80 L333.00,436.80 L333.00,519.30 L356.80,519.30 L356.80,487.50 L381.00,487.50 L381.00,615.60 L404.80,615.60 L404.80,557.60 L428.90,557.60 L428.90,579.30 L453.00,579.30 L453.00,578.70 L476.60,578.70 L476.60,582.20 L501.00,582.20 L501.00,583.30 L525.20,583.30 L525.20,584.40 L549.20,584.40 L549.20,585.00 L573.20,585.00 L573.20,585.50 L597.20,585.50 L597.20,585.70 L621.20,585.70 L621.20,585.90 L645.20,585.90 L645.20,586.10 L669.20,586.10 L669.20,586.20 L677.70,586.20" stroke="#4a8a2a"/>
<path d="M186.90,587.80 L186.90,619.88 L241.50,619.88 L241.50,444.40" stroke="#4a8a2a" stroke-dasharray="7.9 2.1 3.7 2.1" stroke-dashoffset="168.17"/>
<path d="M154.30,591.30 L154.30,619.88 L252.40,619.88 L252.40,444.40" stroke="#67768f" stroke-dasharray="7.9 2.1 3.7 2.1" stroke-dashoffset="132.07"/>
<path d="M252.40,444.40 L260.80,444.40 L260.80,479.90 L284.90,479.90 L284.90,600.30 L308.90,600.30 L308.90,436.80 L333.00,436.80 L333.00,519.30 L356.80,519.30 L356.80,487.50 L381.00,487.50 L381.00,615.60 L404.80,615.60 L404.80,557.60 L428.90,557.60 L428.90,579.30 L453.00,579.30 L453.00,578.70 L476.60,578.70 L476.60,582.20 L501.00,582.20 L501.00,583.30 L525.20,583.30 L525.20,584.40 L549.20,584.40 L549.20,585.00 L573.20,585.00 L573.20,585.50 L597.20,585.50 L597.20,585.70 L621.20,585.70 L621.20,585.90 L645.20,585.90 L645.20,586.10 L669.20,586.10 L669.20,586.20 L677.70,586.20" stroke="#67768f" stroke-dasharray="7.9 2.1 3.7 2.1" stroke-dashoffset="434.22"/>
<path d="M350.60,519.30 L356.80,519.30 L356.80,487.50 L381.00,487.50 L381.00,615.60 L404.80,615.60 L404.80,557.60 L428.90,557.60 L428.90,579.30 L453.00,579.30 L453.00,578.70 L476.60,578.70 L476.60,582.20 L501.00,582.20 L501.00,583.30 L525.20,583.30 L525.20,584.40 L549.20,584.40 L549.20,585.00 L573.20,585.00 L573.20,585.50 L597.20,585.50 L597.20,585.70 L621.20,585.70 L621.20,585.90 L645.20,585.90 L645.20,586.10 L669.20,586.10 L669.20,586.20 L677.70,586.20" stroke="#d45a1c"/>
<path d="M284.90,479.90 L284.90,619.88 L350.60,619.88 L350.60,519.30" stroke="#d45a1c" stroke-dasharray="7.9 2.1 3.7 2.1" stroke-dashoffset="535.87"/>
<path d="M78.00,619.88 L117.20,619.88 L117.20,577.70 L140.30,577.70 L140.30,591.30 L164.40,591.30 L164.40,587.80 L188.70,587.80 L188.70,467.10 L212.90,467.10 L212.90,399.00 L237.00,399.00 L237.00,444.40 L260.80,444.40 L260.80,479.90 L284.90,479.90 L284.90,600.30 L308.90,600.30 L308.90,436.80 L333.00,436.80 L333.00,519.30 L356.80,519.30 L356.80,487.50 L381.00,487.50 L381.00,615.60 L404.80,615.60 L404.80,557.60 L428.90,557.60 L428.90,579.30 L453.00,579.30 L453.00,578.70 L476.60,578.70 L476.60,582.20 L501.00,582.20 L501.00,583.30 L525.20,583.30 L525.20,584.40 L549.20,584.40 L549.20,585.00 L573.20,585.00 L573.20,585.50 L597.20,585.50 L597.20,585.70 L621.20,585.70 L621.20,585.90 L645.20,585.90 L645.20,586.10 L669.20,586.10 L669.20,586.20 L677.70,586.20" stroke="#2a74c0" stroke-dasharray="7.9 2.1 3.7 2.1"/>
</g>
<rect x="549.5" y="389.5" width="121.5" height="93" fill="#fff" stroke="#5c5c5c" stroke-width="1.1"/>
<line x1="551.4" y1="402.60" x2="575.5" y2="402.60" stroke="#4a8a2a" stroke-width="2" stroke-dasharray="7.9 2.1 3.7 2.1"/>
<text x="578" y="409.20" font-size="20">generator 1</text>
<line x1="551.4" y1="425.55" x2="575.5" y2="425.55" stroke="#67768f" stroke-width="2" stroke-dasharray="7.9 2.1 3.7 2.1"/>
<text x="578" y="432.15" font-size="20">generator 2</text>
<line x1="551.4" y1="448.50" x2="575.5" y2="448.50" stroke="#d45a1c" stroke-width="2" stroke-dasharray="7.9 2.1 3.7 2.1"/>
<text x="578" y="455.10" font-size="20">generator 3</text>
<line x1="551.4" y1="471.45" x2="575.5" y2="471.45" stroke="#2a74c0" stroke-width="2" stroke-dasharray="7.9 2.1 3.7 2.1"/>
<text x="578" y="478.05" font-size="20">generator 4</text>
<g transform="translate(15.1,558.50) rotate(-90)" class="yl"><path fill="#1e1e1e" fill-rule="evenodd" stroke="none" d="M0.50,0.00 L14.70,0.00 L7.60,-14.30 Z M1.90,-1.35 L12.58,-1.35 L7.24,-12.11 Z"/><text x="16.6" y="0" font-size="20" font-style="italic">P</text><text x="29.2" y="10.2" font-size="15">m</text><text x="41.8" y="0" font-size="20">(p.u)</text></g>
<rect x="78.0" y="760.9" width="599.70" height="270.30" fill="none" stroke="#1c1c1c" stroke-width="2"/>
<path d="M132.52,1031.2 v-6.5 M132.52,760.9 v6.5 M187.04,1031.2 v-6.5 M187.04,760.9 v6.5 M241.55,1031.2 v-6.5 M241.55,760.9 v6.5 M296.07,1031.2 v-6.5 M296.07,760.9 v6.5 M350.59,1031.2 v-6.5 M350.59,760.9 v6.5 M405.11,1031.2 v-6.5 M405.11,760.9 v6.5 M459.63,1031.2 v-6.5 M459.63,760.9 v6.5 M514.15,1031.2 v-6.5 M514.15,760.9 v6.5 M568.66,1031.2 v-6.5 M568.66,760.9 v6.5 M623.18,1031.2 v-6.5 M623.18,760.9 v6.5 M78.0,986.15 h6.5 M677.7,986.15 h-6.5 M78.0,941.10 h6.5 M677.7,941.10 h-6.5 M78.0,896.05 h6.5 M677.7,896.05 h-6.5 M78.0,851.00 h6.5 M677.7,851.00 h-6.5 M78.0,805.95 h6.5 M677.7,805.95 h-6.5" stroke="#1c1c1c" stroke-width="2" fill="none"/>
<text x="78.00" y="1051.70" font-size="16" text-anchor="middle">0</text>
<text x="132.52" y="1051.70" font-size="16" text-anchor="middle">5</text>
<text x="187.04" y="1051.70" font-size="16" text-anchor="middle">10</text>
<text x="241.55" y="1051.70" font-size="16" text-anchor="middle">15</text>
<text x="296.07" y="1051.70" font-size="16" text-anchor="middle">20</text>
<text x="350.59" y="1051.70" font-size="16" text-anchor="middle">25</text>
<text x="405.11" y="1051.70" font-size="16" text-anchor="middle">30</text>
<text x="459.63" y="1051.70" font-size="16" text-anchor="middle">35</text>
<text x="514.15" y="1051.70" font-size="16" text-anchor="middle">40</text>
<text x="568.66" y="1051.70" font-size="16" text-anchor="middle">45</text>
<text x="623.18" y="1051.70" font-size="16" text-anchor="middle">50</text>
<text x="677.70" y="1051.70" font-size="16" text-anchor="middle">55</text>
<text x="72.6" y="1037.40" font-size="16" text-anchor="end">-0.005</text>
<text x="72.6" y="992.35" font-size="16" text-anchor="end">0</text>
<text x="72.6" y="947.30" font-size="16" text-anchor="end">0.005</text>
<text x="72.6" y="902.25" font-size="16" text-anchor="end">0.01</text>
<text x="72.6" y="857.20" font-size="16" text-anchor="end">0.015</text>
<text x="72.6" y="812.15" font-size="16" text-anchor="end">0.02</text>
<text x="72.6" y="767.10" font-size="16" text-anchor="end">0.025</text>
<text x="377.85" y="1074.70" font-size="20" text-anchor="middle"><tspan font-style="italic">t</tspan>(s)</text>
<text x="377.85" y="1098.00" font-size="20" text-anchor="middle">(c)</text>
<g clip-path="url(#clipc)" fill="none" stroke-width="2">
<path d="M241.50,855.80 L260.80,855.80 L260.80,885.80 L284.90,885.80 L284.90,982.60 L308.90,982.60 L308.90,837.40 L333.00,837.40 L333.00,915.60 L356.80,915.60 L356.80,885.80 L381.00,885.80 L381.00,993.70 L404.80,993.70 L404.80,938.20 L428.90,938.20 L428.90,958.90 L453.00,958.90 L453.00,956.40 L476.60,956.40 L476.60,959.10 L501.00,959.10 L501.00,959.10 L525.20,959.10 L525.20,960.10 L549.20,960.10 L549.20,960.40 L573.20,960.40 L573.20,960.60 L597.20,960.60 L597.20,960.80 L621.20,960.80 L621.20,961.00 L645.20,961.00 L645.20,961.10 L669.20,961.10 L669.20,961.20 L677.70,961.20" stroke="#4a8a2a"/>
<path d="M186.90,961.90 L186.90,986.15 L241.50,986.15 L241.50,855.80" stroke="#4a8a2a" stroke-dasharray="7.9 2.1 3.7 2.1" stroke-dashoffset="160.15"/>
<path d="M154.30,965.80 L154.30,986.15 L252.40,986.15 L252.40,855.80" stroke="#67768f" stroke-dasharray="7.9 2.1 3.7 2.1" stroke-dashoffset="123.65"/>
<path d="M252.40,855.80 L260.80,855.80 L260.80,885.80 L284.90,885.80 L284.90,982.60 L308.90,982.60 L308.90,837.40 L333.00,837.40 L333.00,915.60 L356.80,915.60 L356.80,885.80 L381.00,885.80 L381.00,993.70 L404.80,993.70 L404.80,938.20 L428.90,938.20 L428.90,958.90 L453.00,958.90 L453.00,956.40 L476.60,956.40 L476.60,959.10 L501.00,959.10 L501.00,959.10 L525.20,959.10 L525.20,960.10 L549.20,960.10 L549.20,960.40 L573.20,960.40 L573.20,960.60 L597.20,960.60 L597.20,960.80 L621.20,960.80 L621.20,961.00 L645.20,961.00 L645.20,961.10 L669.20,961.10 L669.20,961.20 L677.70,961.20" stroke="#67768f" stroke-dasharray="7.9 2.1 3.7 2.1" stroke-dashoffset="372.45"/>
<path d="M350.60,915.60 L356.80,915.60 L356.80,885.80 L381.00,885.80 L381.00,993.70 L404.80,993.70 L404.80,938.20 L428.90,938.20 L428.90,958.90 L453.00,958.90 L453.00,956.40 L476.60,956.40 L476.60,959.10 L501.00,959.10 L501.00,959.10 L525.20,959.10 L525.20,960.10 L549.20,960.10 L549.20,960.40 L573.20,960.40 L573.20,960.60 L597.20,960.60 L597.20,960.80 L621.20,960.80 L621.20,961.00 L645.20,961.00 L645.20,961.10 L669.20,961.10 L669.20,961.20 L677.70,961.20" stroke="#d45a1c"/>
<path d="M284.90,885.80 L284.90,986.15 L350.60,986.15 L350.60,915.60" stroke="#d45a1c" stroke-dasharray="7.9 2.1 3.7 2.1" stroke-dashoffset="481.05"/>
<path d="M78.00,986.15 L117.20,986.15 L117.20,952.30 L140.30,952.30 L140.30,965.80 L164.40,965.80 L164.40,961.90 L188.70,961.90 L188.70,864.10 L212.90,864.10 L212.90,812.40 L237.00,812.40 L237.00,855.80 L260.80,855.80 L260.80,885.80 L284.90,885.80 L284.90,982.60 L308.90,982.60 L308.90,837.40 L333.00,837.40 L333.00,915.60 L356.80,915.60 L356.80,885.80 L381.00,885.80 L381.00,993.70 L404.80,993.70 L404.80,938.20 L428.90,938.20 L428.90,958.90 L453.00,958.90 L453.00,956.40 L476.60,956.40 L476.60,959.10 L501.00,959.10 L501.00,959.10 L525.20,959.10 L525.20,960.10 L549.20,960.10 L549.20,960.40 L573.20,960.40 L573.20,960.60 L597.20,960.60 L597.20,960.80 L621.20,960.80 L621.20,961.00 L645.20,961.00 L645.20,961.10 L669.20,961.10 L669.20,961.20 L677.70,961.20" stroke="#2a74c0" stroke-dasharray="7.9 2.1 3.7 2.1"/>
</g>
<rect x="549.5" y="767.2" width="121.5" height="93" fill="#fff" stroke="#5c5c5c" stroke-width="1.1"/>
<line x1="551.4" y1="780.30" x2="575.5" y2="780.30" stroke="#4a8a2a" stroke-width="2" stroke-dasharray="7.9 2.1 3.7 2.1"/>
<text x="578" y="786.90" font-size="20">generator 1</text>
<line x1="551.4" y1="803.25" x2="575.5" y2="803.25" stroke="#67768f" stroke-width="2" stroke-dasharray="7.9 2.1 3.7 2.1"/>
<text x="578" y="809.85" font-size="20">generator 2</text>
<line x1="551.4" y1="826.20" x2="575.5" y2="826.20" stroke="#d45a1c" stroke-width="2" stroke-dasharray="7.9 2.1 3.7 2.1"/>
<text x="578" y="832.80" font-size="20">generator 3</text>
<line x1="551.4" y1="849.15" x2="575.5" y2="849.15" stroke="#2a74c0" stroke-width="2" stroke-dasharray="7.9 2.1 3.7 2.1"/>
<text x="578" y="855.75" font-size="20">generator 4</text>
<g transform="translate(15.1,935.70) rotate(-90)" class="yl"><path fill="#1e1e1e" fill-rule="evenodd" stroke="none" d="M0.50,0.00 L14.70,0.00 L7.60,-14.30 Z M1.90,-1.35 L12.58,-1.35 L7.24,-12.11 Z"/><text x="16.6" y="0" font-size="20" font-style="italic">P</text><text x="29.2" y="10.2" font-size="15">m</text><text x="41.8" y="0" font-size="20">(p.u)</text></g>
</svg></body></html>
